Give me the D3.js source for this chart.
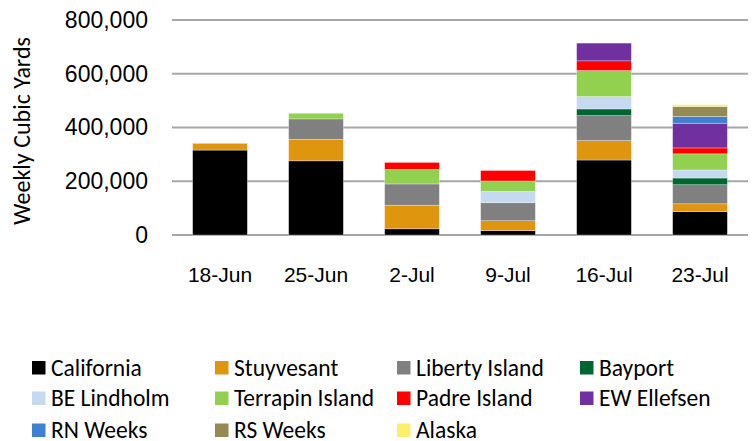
<!DOCTYPE html>
<html><head><meta charset="utf-8">
<script src="https://cdn.jsdelivr.net/npm/d3@7"></script>
<style>
html,body{margin:0;padding:0;background:#fff;}
svg{display:block;font-family:Carlito,Calibri,Lato,"Open Sans",sans-serif;}
</style></head>
<body><svg id="c" width="752" height="441"></svg>
<script>
const categories = ["18-Jun","25-Jun","2-Jul","9-Jul","16-Jul","23-Jul"];
const seriesNames = ["California","Stuyvesant","Liberty Island","Bayport","BE Lindholm","Terrapin Island","Padre Island","EW Ellefsen","RN Weeks","RS Weeks","Alaska"];
const seriesColors = ["#000000","#df950e","#808080","#00662f","#c5d9f1","#92d050","#ff0000","#7030a0","#3f80d2","#948a54","#fcef6c"];
const California     = [316000,276000,23000,16000,279000,87000];
const Stuyvesant     = [25000,80000,88000,37000,72000,29000];
const LibertyIsland  = [0,76000,79000,67000,93000,71000];
const Bayport        = [0,0,0,0,25000,25000];
const BELindholm     = [0,0,0,42000,46000,30000];
const TerrapinIsland = [0,21000,54000,39000,97000,60000];
const PadreIsland    = [0,0,26000,39000,36000,22000];
const EWEllefsen     = [0,0,0,0,66000,92000];
const RNWeeks        = [0,0,0,0,0,25000];
const RSWeeks        = [0,0,0,0,0,37000];
const Alaska         = [0,0,0,0,0,7000];
const yTicks = [0,200000,400000,600000,800000];

const seriesValues = [California,Stuyvesant,LibertyIsland,Bayport,BELindholm,TerrapinIsland,PadreIsland,EWEllefsen,RNWeeks,RSWeeks,Alaska];
const rows = categories.map((c,i)=>{const r={cat:c}; seriesNames.forEach((s,j)=>r[s]=seriesValues[j][i]); return r;});
const stack = d3.stack().keys(seriesNames)(rows);

const svg = d3.select("#c");
const x = d3.scaleBand().domain(categories).range([172,748]).paddingInner(0.43).paddingOuter(0.215);
const y = d3.scaleLinear().domain([0,800000]).range([235,20]);

// gridlines
svg.append("g").selectAll("line").data(yTicks).join("line")
  .attr("x1",172).attr("x2",748)
  .attr("y1",d=>y(d)).attr("y2",d=>y(d))
  .attr("stroke","#a6a6a6").attr("stroke-width",2);

// y labels
const yAxis = svg.append("g").attr("transform","translate(148,0)")
  .call(d3.axisLeft(y).tickValues(yTicks).tickSize(0).tickPadding(0).tickFormat(d3.format(",")));
yAxis.select(".domain").remove();
yAxis.selectAll("text").attr("font-size",23).attr("fill","#000").attr("font-family",null);

// bars
svg.append("g").selectAll("g").data(stack).join("g")
  .attr("fill",(d,i)=>seriesColors[i])
  .selectAll("rect").data(d=>d.filter(p=>p[1]-p[0]>0)).join("rect")
  .attr("x",d=>x(d.data.cat)).attr("width",x.bandwidth())
  .attr("y",d=>y(d[1])).attr("height",d=>y(d[0])-y(d[1]))
  .attr("stroke","#ffffff").attr("stroke-width",0.6).attr("stroke-opacity",0.5);

// x axis labels
const xAxis = svg.append("g").attr("transform","translate(0,267)")
  .call(d3.axisBottom(x).tickSize(0).tickPadding(0));
xAxis.select(".domain").remove();
xAxis.selectAll("text").attr("font-size",21).attr("fill","#000").attr("font-family",null).attr("dy","0.71em");

// y title
svg.append("text").attr("transform","translate(30,131) rotate(-90)")
  .attr("text-anchor","middle").attr("font-size",24).attr("fill","#000")
  .text("Weekly Cubic Yards");

// legend
const colX = [32,215,397,580];
const rowY = [367.5,398,430];
const lg = svg.append("g").selectAll("g").data(seriesNames).join("g")
  .attr("transform",(d,i)=>`translate(${colX[i%4]},${rowY[Math.floor(i/4)]})`);
lg.append("rect").attr("x",0).attr("y",-6.5).attr("width",13.5).attr("height",13.5).attr("fill",(d,i)=>seriesColors[i]);
lg.append("text").attr("x",19).attr("y",0).attr("dy","0.36em").attr("font-size",23.5).attr("fill","#000").text(d=>d);
</script></body></html>
